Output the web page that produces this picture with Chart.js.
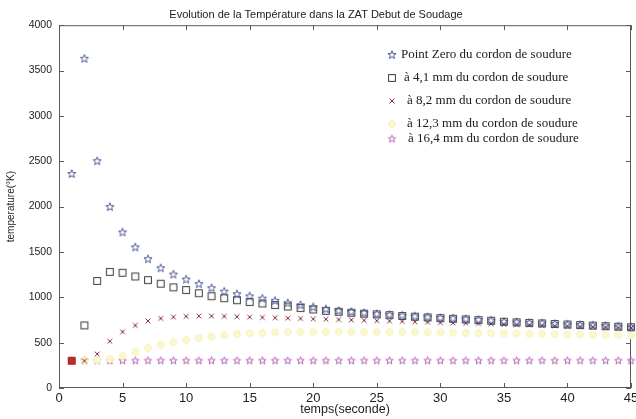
<!DOCTYPE html>
<html>
<head>
<meta charset="utf-8">
<script src="https://cdn.jsdelivr.net/npm/chart.js@4.4.1/dist/chart.umd.min.js"></script>
<style>
  html, body { margin: 0; padding: 0; background: #fff; }
  #wrap { width: 636px; height: 419px; }
</style>
</head>
<body>
<div id="wrap"><canvas id="tempChart" width="636" height="419"></canvas></div>
<script>
// temps (seconde)
const temps = [1, 2, 3, 4, 5, 6, 7, 8, 9, 10, 11, 12, 13, 14, 15, 16, 17, 18, 19, 20, 21, 22, 23,
    24, 25, 26, 27, 28, 29, 30, 31, 32, 33, 34, 35, 36, 37, 38, 39, 40, 41, 42, 43, 44, 45];

// temperature (K) for each distance from the weld bead
const pointZero = [2360, 3630, 2500, 1995, 1715, 1550, 1420, 1320, 1250, 1195, 1145, 1100, 1062, 1033,
    1010, 985, 960, 935, 912, 890, 868, 850, 838, 826, 815, 806, 797, 788, 780, 772, 765, 758, 750,
    743, 730, 724, 718, 712, 706, 700, 694, 688, 682, 676, 670];
const dist41 = [300, 690, 1180, 1280, 1270, 1230, 1190, 1150, 1110, 1080, 1045, 1012, 990, 968,
    948, 932, 915, 898, 882, 866, 851, 840, 830, 820, 812, 803, 794, 786, 778, 770, 763, 756, 749,
    742, 730, 724, 718, 712, 706, 700, 694, 688, 682, 676, 670];
const dist82 = [300, 300, 375, 515, 620, 690, 740, 767, 782, 790, 793, 793, 790, 786, 782, 778, 774,
    770, 766, 762, 758, 754, 750, 746, 742, 738, 734, 730, 726, 722, 718, 714, 710, 706, 702, 698,
    694, 690, 686, 682, 678, 674, 670, 666, 662];
const dist123 = [300, 300, 305, 320, 355, 400, 440, 477, 506, 528, 550, 569, 583, 595, 603, 609, 613,
    617, 619, 620, 621, 621, 621, 620, 619, 618, 617, 616, 614, 612, 610, 608, 606, 604, 602, 600,
    598, 596, 594, 592, 590, 588, 586, 584, 582];
const dist164 = [300, 300, 300, 300, 300, 300, 300, 300, 300, 300, 300, 300, 300, 300, 300, 300, 300,
    300, 300, 300, 300, 300, 300, 300, 300, 300, 300, 300, 300, 300, 300, 300, 300, 300, 300, 300,
    300, 300, 300, 300, 300, 300, 300, 300, 300];

const seriesLabels = [
    'Point Zero du cordon de soudure',
    'à 4,1 mm du cordon de soudure',
    'à 8,2 mm du cordon de soudure',
    'à 12,3 mm du cordon de soudure',
    'à 16,4 mm du cordon de soudure'
];

const xTicks = [0, 5, 10, 15, 20, 25, 30, 35, 40, 45];
const yTicks = [0, 500, 1000, 1500, 2000, 2500, 3000, 3500, 4000];

// marker sprites
function sprite(size, draw) {
    const c = document.createElement('canvas');
    c.width = c.height = size;
    const g = c.getContext('2d');
    g.translate(size / 2, size / 2);
    draw(g);
    return c;
}

function star(r, stroke, fill) {
    return sprite(Math.ceil(r * 2 + 3), g => {
        g.beginPath();
        for (let i = 0; i < 10; i++) {
            const rad = i % 2 ? r * 0.42 : r;
            const ang = -Math.PI / 2 + i * Math.PI / 5;
            g.lineTo(rad * Math.cos(ang), rad * Math.sin(ang));
        }
        g.closePath();
        if (fill) { g.fillStyle = fill; g.fill(); }
        g.strokeStyle = stroke;
        g.lineWidth = 1;
        g.stroke();
    });
}

function square(h, stroke, fill) {
    return sprite(Math.ceil(h * 2 + 3), g => {
        if (fill) { g.fillStyle = fill; g.fillRect(-h, -h, h * 2, h * 2); }
        g.strokeStyle = stroke;
        g.lineWidth = 1;
        g.strokeRect(-h, -h, h * 2, h * 2);
    });
}

function cross(h, stroke) {
    return sprite(Math.ceil(h * 2 + 3), g => {
        g.strokeStyle = stroke;
        g.lineWidth = 1;
        g.beginPath();
        g.moveTo(-h, -h); g.lineTo(h, h);
        g.moveTo(h, -h); g.lineTo(-h, h);
        g.stroke();
    });
}

function dot(r, stroke, fill) {
    return sprite(Math.ceil(r * 2 + 3), g => {
        g.beginPath();
        g.arc(0, 0, r, 0, Math.PI * 2);
        g.fillStyle = fill;
        g.fill();
        g.strokeStyle = stroke;
        g.lineWidth = 1;
        g.stroke();
    });
}

const RED = '#c22a30';
const mkZero = star(4.3, '#4f5a94');
const mkSquare = square(3.4, '#3a3a3a');
const mkSquareRed = square(3.4, '#9a2228', RED);
const mkCross = cross(2.4, '#8a2b4c');
const mkDot = dot(3.5, '#f6f2bc', '#fbf8cf');
const mkPurple = star(3.9, '#b561b4');
const mkPurpleRed = star(3.9, '#a8242a', RED);

const markers = [mkZero, mkSquare, mkCross, mkDot, mkPurple];

function points(values) {
    return values.map((v, i) => ({ x: temps[i], y: v }));
}

const seriesValues = [pointZero, dist41, dist82, dist123, dist164];
const datasets = seriesValues.map((vals, k) => ({
    label: seriesLabels[k],
    data: points(vals),
    showLine: false,
    clip: false,
    pointRadius: 4,
    pointStyle: markers[k]
}));
// first readings overlap at 300 K
datasets[1].pointStyle = ctx => ctx.dataIndex === 0 ? mkSquareRed : mkSquare;
datasets[4].pointStyle = ctx => ctx.dataIndex === 1 ? mkPurpleRed : mkPurple;

// box around the plot with inward tick marks on every side
const frameTicks = {
    id: 'frameTicks',
    beforeDatasetsDraw(chart) {
        const { ctx, chartArea: a, scales: { x, y } } = chart;
        ctx.save();
        ctx.strokeStyle = '#5a5a5a';
        ctx.lineWidth = 1;
        ctx.strokeRect(a.left + 0.5, a.top + 0.5, a.right - a.left - 1, a.bottom - a.top - 1);
        ctx.beginPath();
        x.ticks.forEach(t => {
            const px = Math.round(x.getPixelForValue(t.value)) + 0.5;
            ctx.moveTo(px, a.bottom); ctx.lineTo(px, a.bottom - 5);
            ctx.moveTo(px, a.top); ctx.lineTo(px, a.top + 5);
        });
        y.ticks.forEach(t => {
            const py = Math.round(y.getPixelForValue(t.value)) + 0.5;
            ctx.moveTo(a.left, py); ctx.lineTo(a.left + 5, py);
            ctx.moveTo(a.right, py); ctx.lineTo(a.right - 5, py);
        });
        ctx.stroke();
        ctx.restore();
    }
};

// legend drawn inside the plot, top right
const innerLegend = {
    id: 'innerLegend',
    afterDatasetsDraw(chart) {
        const ctx = chart.ctx;
        const rows = [55, 78, 101, 124, 139];
        const textX = [401, 404, 407, 407, 408];
        ctx.save();
        ctx.font = '13px "Liberation Serif", "Times New Roman", serif';
        ctx.fillStyle = '#1a1a1a';
        ctx.textBaseline = 'middle';
        chart.data.datasets.forEach((ds, i) => {
            const m = markers[i];
            ctx.drawImage(m, 392 - m.width / 2, rows[i] - m.height / 2);
            ctx.fillText(ds.label, textX[i], rows[i]);
        });
        ctx.restore();
    }
};

const sans = '"Liberation Sans", Arial, sans-serif';

new Chart(document.getElementById('tempChart'), {
    type: 'scatter',
    data: { datasets: datasets },
    plugins: [frameTicks, innerLegend],
    options: {
        responsive: false,
        animation: false,
        devicePixelRatio: 1,
        layout: { padding: { top: 0, right: 4, bottom: 0, left: 0 } },
        plugins: {
            legend: { display: false },
            tooltip: { enabled: false },
            title: {
                display: true,
                text: 'Evolution de la Température dans la ZAT Debut de Soudage',
                color: '#222',
                font: { family: sans, size: 11, weight: 'normal' },
                padding: { top: 8, bottom: 4 }
            }
        },
        scales: {
            x: {
                type: 'linear',
                min: 0,
                max: 45,
                afterBuildTicks: s => { s.ticks = xTicks.map(v => ({ value: v })); },
                afterFit: s => { s.height = 31; s.paddingLeft = 0; s.paddingRight = 4; },
                grid: { display: false, drawTicks: false },
                border: { display: false },
                ticks: {
                    color: '#222',
                    padding: 3,
                    maxRotation: 0,
                    font: { family: sans, size: 13 },
                    callback: v => String(v)
                },
                title: {
                    display: true,
                    text: 'temps(seconde)',
                    color: '#222',
                    font: { family: sans, size: 12.5 },
                    padding: { top: 1.5, bottom: 1.5 }
                }
            },
            y: {
                type: 'linear',
                min: 0,
                max: 4000,
                afterBuildTicks: s => { s.ticks = yTicks.map(v => ({ value: v })); },
                afterFit: s => { s.width = 59; },
                grid: { display: false, drawTicks: false },
                border: { display: false },
                ticks: {
                    color: '#222',
                    padding: 7,
                    font: { family: sans, size: 10.5 },
                    callback: v => String(v)
                },
                title: {
                    display: true,
                    text: 'temperature(°K)',
                    color: '#222',
                    font: { family: sans, size: 10 },
                    padding: { top: 5.5, bottom: 2 }
                }
            }
        }
    }
});
</script>
</body>
</html>
